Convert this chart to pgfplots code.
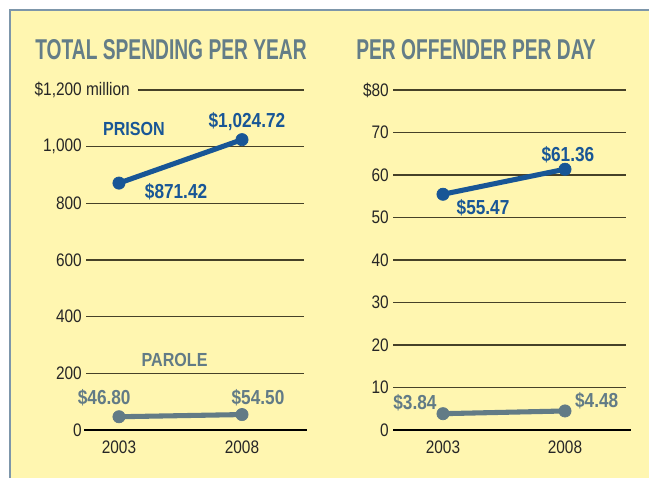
\documentclass[border=0pt]{standalone}
\usepackage{fontspec}
\setmainfont{Liberation Sans}[FakeStretch=0.85]
\newfontfamily\titlefont{Liberation Sans}[FakeStretch=0.67]
\usepackage{pgfplots}
\pgfplotsset{compat=1.18}

\definecolor{bg}{RGB}{255,246,176}
\definecolor{frame}{RGB}{125,150,170}
\definecolor{prison}{RGB}{24,86,150}
\definecolor{parole}{RGB}{98,123,134}
\definecolor{ttl}{RGB}{100,125,135}
\definecolor{gridc}{RGB}{70,65,40}

\pgfplotsset{
  panel/.style={
    scale only axis, height=255pt, clip=false,
    axis line style={draw=none}, tick style={draw=none},
    ymajorgrids, major grid style={gridc, line width=0.9pt},
    xtick={2003,2008}, xticklabels={2003,2008},
    tick label style={font=\fontsize{13.6}{14}\selectfont, text=black!85},
    yticklabel style={anchor=east, inner sep=0pt, xshift=-3pt},
    xticklabel style={anchor=north, inner sep=0pt, yshift=-8pt},
  },
  prisonline/.style={prison, line width=3.8pt, mark=*, mark size=4.6pt,
    mark options={line width=0.5pt}},
  paroleline/.style={parole, line width=3.8pt, mark=*, mark size=4.6pt,
    mark options={line width=0.5pt}},
}
\newcommand{\vlab}{\bfseries\fontsize{15.2}{16}\selectfont}

\begin{document}
\begin{tikzpicture}
\useasboundingbox (0,0) rectangle (486.75pt,-358.5pt);
\fill[white] (0,0) rectangle (486.75pt,-358.5pt);
\fill[bg] (7.5pt,-7.5pt) rectangle (486.75pt,-358.5pt);
\draw[frame, line width=1.1pt] (7.5pt,-358.5pt) -- (7.5pt,-7.5pt) -- (486.75pt,-7.5pt);

\node[ttl, font=\titlefont\bfseries\fontsize{21.5}{22}\selectfont] at (128.25pt,-37.5pt) {TOTAL SPENDING PER YEAR};
\node[ttl, font=\titlefont\bfseries\fontsize{21.5}{22}\selectfont] at (357pt,-37.5pt) {PER OFFENDER PER DAY};

% total spending, million dollars
\begin{axis}[panel, at={(64.5pt,-322.5pt)}, anchor=south west,
  width=163.5pt, xmin=2001.66, xmax=2010.52, ymin=0, ymax=1200,
  ytick={0,200,400,600,800,1000},
  yticklabels={0,200,400,600,800,{1,000}}]
  \draw[gridc, line width=0.9pt] (axis cs:2003.77,1200) -- (axis cs:2010.52,1200);
  \node[anchor=east, inner sep=0pt, font=\fontsize{13.6}{14}\selectfont, text=black!85]
    at (axis cs:2003.45,1200) {\$1,200 million};
  \draw[black, line width=2.2pt] (axis cs:2001.58,0) -- (axis cs:2010.64,0);
  \addplot[prisonline] coordinates {(2003,871.42) (2008,1024.72)};
  \addplot[paroleline] coordinates {(2003,46.80) (2008,54.50)};
  \node[prison, font=\bfseries\fontsize{14.2}{15}\selectfont] at (axis cs:2003.61,1062) {PRISON};
  \node[prison, font=\vlab] at (axis cs:2008.2,1087) {\$1,024.72};
  \node[prison, font=\vlab] at (axis cs:2005.32,840) {\$871.42};
  \node[parole, font=\bfseries\fontsize{14.2}{15}\selectfont] at (axis cs:2005.26,247) {PAROLE};
  \node[parole, font=\vlab] at (axis cs:2002.4,115) {\$46.80};
  \node[parole, font=\vlab] at (axis cs:2008.65,115) {\$54.50};
\end{axis}

% per offender per day, dollars
\begin{axis}[panel, at={(294.75pt,-322.5pt)}, anchor=south west,
  width=174.75pt, xmin=2000.951, xmax=2010.5, ymin=0, ymax=80,
  ytick={0,10,20,30,40,50,60,70,80},
  yticklabels={0,10,20,30,40,50,60,70,\$80}]
  \draw[black, line width=2.2pt] (axis cs:2000.951,0) -- (axis cs:2010.7,0);
  \addplot[prisonline] coordinates {(2003,55.47) (2008,61.36)};
  \addplot[paroleline] coordinates {(2003,3.84) (2008,4.48)};
  \node[prison, font=\vlab] at (axis cs:2008.12,64.7) {\$61.36};
  \node[prison, font=\vlab] at (axis cs:2004.64,52.2) {\$55.47};
  \node[parole, font=\vlab] at (axis cs:2001.85,6.35) {\$3.84};
  \node[parole, font=\vlab] at (axis cs:2009.3,6.8) {\$4.48};
\end{axis}
\end{tikzpicture}
\end{document}
